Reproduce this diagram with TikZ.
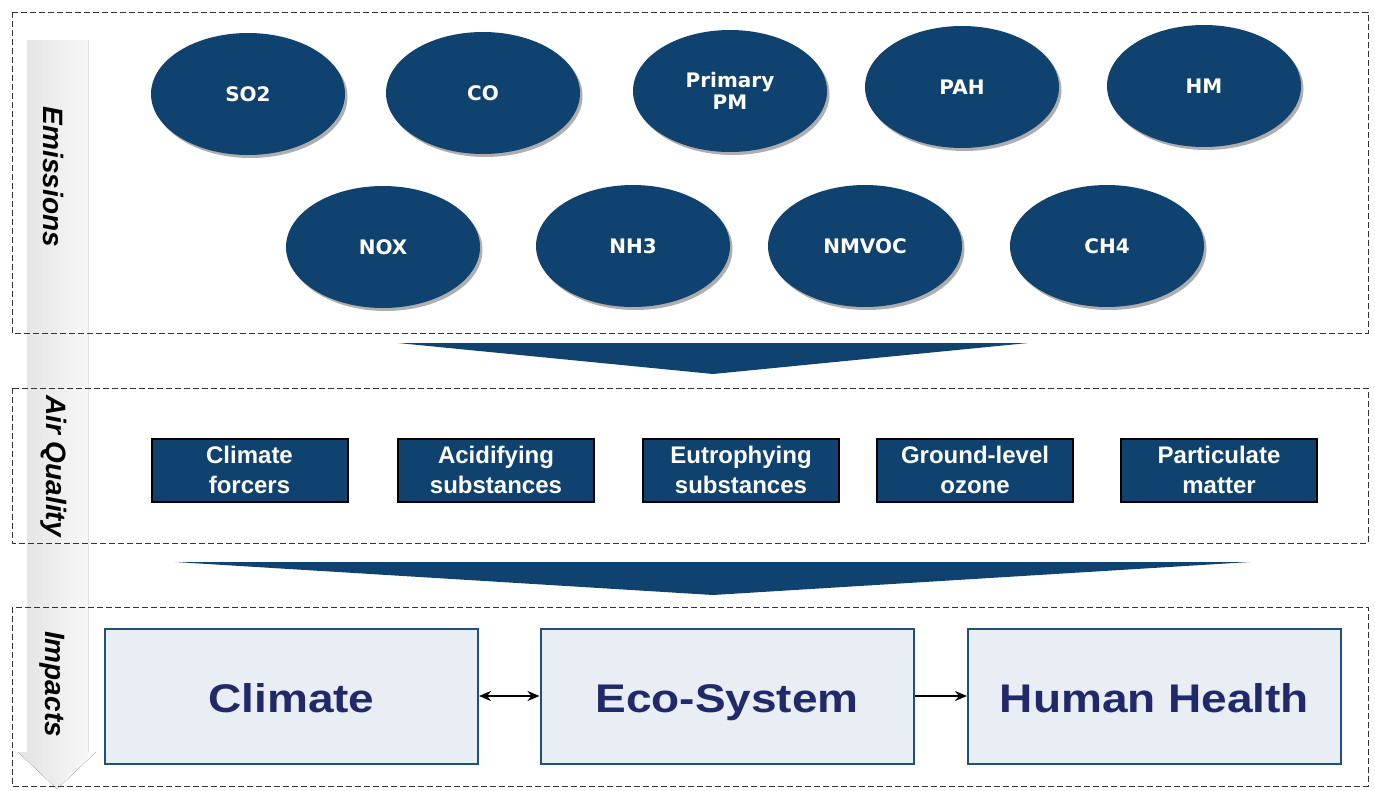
\documentclass[tikz,border=0pt]{standalone}
\usepackage{fontspec}
\setmainfont{Liberation Sans}
\newfontfamily\ellfont{DejaVu Sans}
\usetikzlibrary{shapes.geometric,shadows,arrows.meta}
\definecolor{navy}{RGB}{16,66,112}
\definecolor{impfill}{RGB}{233,237,244}
\definecolor{impborder}{RGB}{30,80,128}
\definecolor{imptext}{RGB}{32,42,106}
\tikzset{
  dashbox/.style={draw=black!80, line width=0.9pt, dash pattern=on 6pt off 3pt},
  sectlabel/.style={rotate=-90, font=\fontsize{28}{32}\selectfont\bfseries\itshape, text=black, inner sep=0pt},
  ell/.style={ellipse, fill=navy, minimum width=194pt, minimum height=122pt, inner sep=0pt,
    text=white, align=center, font=\ellfont\bfseries\fontsize{20}{22}\selectfont,
    drop shadow={shadow xshift=2.5pt, shadow yshift=-3pt, fill=black!45, opacity=0.7}},
  aq/.style={rectangle, fill=navy, draw=black, line width=2pt, minimum width=196pt, minimum height=63pt,
    inner sep=0pt, text=white, align=center, font=\fontsize{24}{30}\selectfont\bfseries},
  imp/.style={rectangle, fill=impfill, draw=impborder, line width=2pt, minimum width=373pt, minimum height=135pt,
    inner sep=0pt, text height=32pt, text depth=0pt, text=imptext, font=\fontsize{40}{44}\selectfont\bfseries},
  chevron/.style={fill=navy},
  link/.style={line width=2.4pt, black}
}
\newcommand{\wide}[1]{\scalebox{1.15}[1]{#1}}
\begin{document}
\begin{tikzpicture}[x=1pt,y=-1pt]
\useasboundingbox[fill=white] (0,0) rectangle (1375,790);
% vertical gray band arrow
\fill[left color=gray!22, right color=gray!4] (27,40) -- (88,40) -- (88,752) -- (96,752) -- (57,789) -- (18,752) -- (27,752) -- cycle;
% section boxes
\draw[dashbox] (12,12) rectangle (1368,333);
\draw[dashbox] (12,388) rectangle (1368,543);
\draw[dashbox] (12,607) rectangle (1368,786);
% section labels
\node[sectlabel] (lem) at (54,177) {Emissions};
\node[sectlabel] (laq) at (54,466) {Air Quality};
\node[sectlabel] (lim) at (52,684) {Impacts};
% emissions
\node[ell] (so2) at (248,94) {SO2};
\node[ell] (co) at (483,93) {CO};
\node[ell] (ppm) at (730,91) {Primary\\PM};
\node[ell] (pah) at (962,87) {PAH};
\node[ell] (hm) at (1204,86) {HM};
\node[ell] (nox) at (383,247) {NOX};
\node[ell] (nh3) at (633,246) {NH3};
\node[ell] (nmvoc) at (865,246) {NMVOC};
\node[ell] (ch4) at (1107,246) {CH4};
% chevrons
\fill[chevron] (398,343) -- (1028,343) -- (713,374) -- cycle;
\fill[chevron] (175,562) -- (1250,562) -- (713,595) -- cycle;
% air quality
\node[aq] (cf) at (249.5,470) {Climate\\forcers};
\node[aq] (acid) at (496,470) {Acidifying\\substances};
\node[aq] (eut) at (741,470) {Eutrophying\\substances};
\node[aq] (ozone) at (975,470) {Ground-level\\ozone};
\node[aq] (pm) at (1219,470) {Particulate\\matter};
% impacts
\node[imp] (clim) at (291.5,696) {\wide{Climate}};
\node[imp] (eco) at (727,696) {\wide{Eco-System}};
\node[imp] (hh) at (1154.5,696) {\wide{Human Health}};
\draw[link, {Stealth[length=12pt,width=10pt]}-{Stealth[length=12pt,width=10pt]}] (clim) -- (eco);
\draw[link, -{Stealth[length=12pt,width=10pt]}] (eco) -- (hh);
\end{tikzpicture}
\end{document}
